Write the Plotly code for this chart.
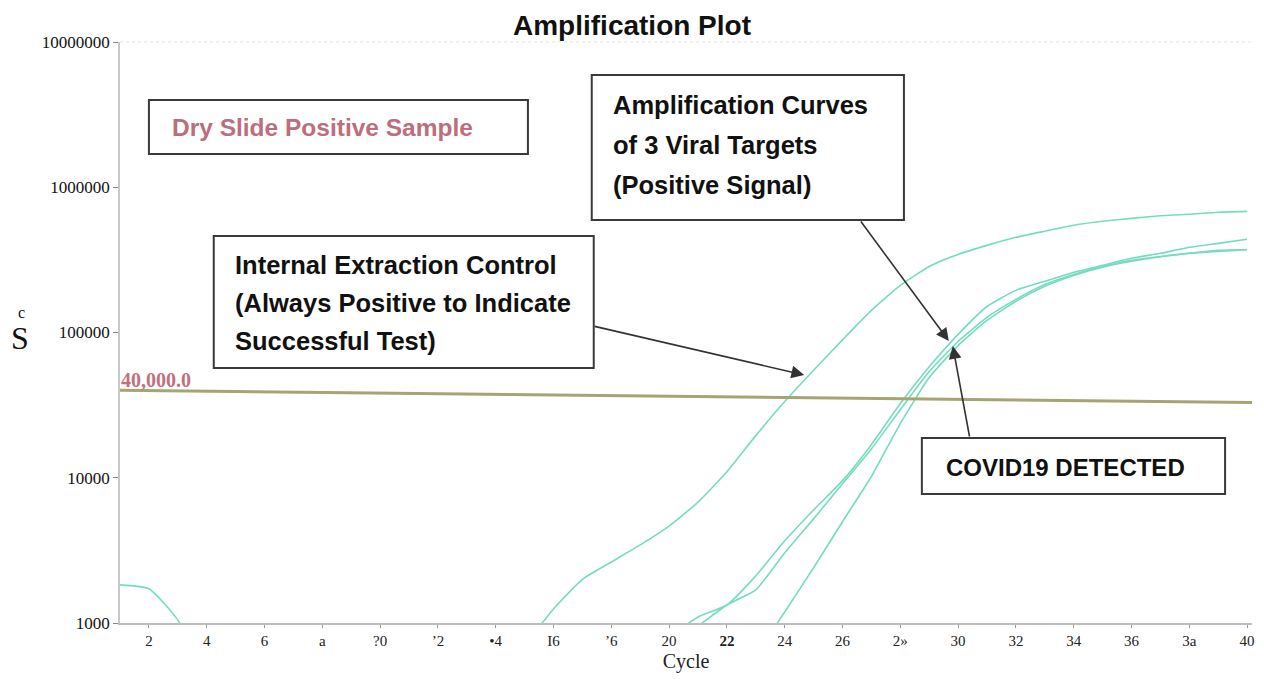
import plotly.graph_objects as go

# ---------------- data ----------------
cycles_ic = list(range(15, 41))
ic_values = [700, 1250, 2000, 2630, 3450, 4650, 6800, 11000, 19500, 33500, 55000,
             89000, 142000, 211000, 285000, 345000, 398000, 452000, 498000, 547000,
             583000, 611000, 636000, 652000, 673000, 682000]

cycles_b = list(range(20, 41))
target_b = [800, 1100, 1330, 2110, 3680, 6000, 9550, 16900, 32400, 58000, 97000,
            151000, 195000, 225000, 259000, 290000, 324000, 351000, 386000, 411000, 438000]

cycles_c = list(range(21, 41))
target_c = [950, 1330, 1690, 3040, 5210, 9100, 15800, 29400, 53800, 86700, 127000,
            169000, 214000, 251000, 285000, 314000, 334000, 351000, 368000, 373000]

cycles_d = list(range(23, 41))
target_d = [600, 1190, 2400, 4980, 10200, 23600, 49000, 81300, 121000, 164000,
            208000, 247000, 281000, 309000, 332000, 351000, 362000, 371000]

cycles_early = [1, 2, 3, 4]
early_values = [1830, 1720, 1050, 400]

threshold_cycles = [1, 40.17]
threshold_values = [40000, 33000]

x_tickvals = list(range(2, 41, 2))
x_ticktext = ["2", "4", "6", "a", "?0", "ʼ2", "•4", "I6", "ʼ6", "20", "<b>22</b>", "24",
              "26", "2»", "30", "32", "34", "36", "3a", "40"]
y_tickvals = [1000, 10000, 100000, 1000000, 10000000]
y_ticktext = ["1000", "10000", "100000", "1000000", "10000000"]

# ---------------- figure ----------------
PAGE_W, PAGE_H = 1264, 679
OFF = 8  # default page body margin
W, H = PAGE_W - OFF, PAGE_H - OFF
L, R, T, B = 120, 1255, 42, 623  # plot area in page pixels


def px(x):
    return (x - L) / (R - L)


def py(y):
    return (B - y) / (B - T)


TEAL = "#74dcc0"
fig = go.Figure()
for xs, ys in [(cycles_early, early_values), (cycles_ic, ic_values), (cycles_b, target_b),
               (cycles_c, target_c), (cycles_d, target_d)]:
    fig.add_trace(go.Scatter(x=xs, y=ys, mode="lines",
                             line=dict(color=TEAL, width=1.6, shape="spline", smoothing=0.5),
                             showlegend=False, hoverinfo="skip"))

fig.add_trace(go.Scatter(x=threshold_cycles, y=threshold_values, mode="lines",
                         line=dict(color="#a6a472", width=3), showlegend=False, hoverinfo="skip"))

serif = "Liberation Serif"
sans = "Liberation Sans"

fig.update_layout(
    width=W, height=H,
    margin=dict(l=L - OFF, r=PAGE_W - R, t=T - OFF, b=PAGE_H - B),
    paper_bgcolor="white", plot_bgcolor="white",
    title=dict(text="<b>Amplification Plot</b>", x=(632 - OFF) / W, xanchor="center",
               y=1 - (25 - OFF) / H, yanchor="middle", font=dict(family=sans, size=28, color="#111")),
    xaxis=dict(range=[1, 40.17], tickvals=x_tickvals, ticktext=x_ticktext,
               showgrid=False, zeroline=False, showline=True, linecolor="#bdbdbd", linewidth=1.5,
               ticks="outside", ticklen=3, tickcolor="#999",
               tickfont=dict(family=serif, size=15, color="#222"),
               title=dict(text="Cycle", font=dict(family=serif, size=20, color="#222"), standoff=6),
               mirror=False),
    yaxis=dict(type="log", range=[3, 7], tickvals=y_tickvals, ticktext=y_ticktext,
               showgrid=False, zeroline=False, showline=True, linecolor="#c8c8c8", linewidth=1.5,
               ticks="outside", ticklen=5, tickcolor="#888",
               tickfont=dict(family=serif, size=17, color="#111")),
)

# faint top border
fig.add_shape(type="line", xref="paper", yref="paper", x0=0, x1=1, y0=1, y1=1,
              line=dict(color="#e2e2e2", width=1, dash="dot"))

# y-axis title glyph
fig.add_annotation(xref="paper", yref="paper", x=px(20), y=py(338), text="S", showarrow=False,
                   font=dict(family=serif, size=32, color="#111"), xanchor="center", yanchor="middle")
fig.add_annotation(xref="paper", yref="paper", x=px(21), y=py(312), text="c", showarrow=False,
                   font=dict(family=serif, size=16, color="#111"), xanchor="center", yanchor="middle")

# threshold label
fig.add_annotation(xref="paper", yref="paper", x=px(119), y=py(380), text="<b>40,000.0</b>",
                   showarrow=False, xanchor="left", yanchor="middle",
                   font=dict(family=serif, size=20, color="#c0707e"))

BOX = dict(color="#3a3a3a", width=2)


def box(x0, y0, x1, y1):
    fig.add_shape(type="rect", xref="paper", yref="paper", x0=px(x0), x1=px(x1),
                  y0=py(y1), y1=py(y0), line=BOX, fillcolor="white", layer="above")


def text(x, y, s, size, color="#111"):
    fig.add_annotation(xref="paper", yref="paper", x=px(x), y=py(y), text="<b>" + s + "</b>",
                       showarrow=False, xanchor="left", yanchor="middle",
                       font=dict(family=sans, size=size, color=color))


box(149, 100, 529, 154)
text(170, 128, "Dry Slide Positive Sample", 24.5, "#bc6e7c")

box(214, 236, 595, 368)
text(233, 265, "Internal Extraction Control", 25.5)
text(233, 303, "(Always Positive to Indicate", 25.5)
text(233, 341, "Successful Test)", 25.5)

box(593, 75, 906, 220)
text(612, 105, "Amplification Curves", 25.5)
text(612, 145, "of 3 Viral Targets", 25.5)
text(612, 185, "(Positive Signal)", 25.5)

box(924, 438, 1228, 494)
text(946, 467, "COVID19 DETECTED", 24)


def arrow(x_tail, y_tail, x_tip, y_tip):
    fig.add_annotation(xref="paper", yref="paper", x=px(x_tip), y=py(y_tip), text="",
                       showarrow=True, axref="pixel", ayref="pixel",
                       ax=x_tail - x_tip, ay=y_tail - y_tip,
                       arrowhead=2, arrowsize=1.6, arrowwidth=1.6, arrowcolor="#333")


arrow(595, 326, 806, 375)
arrow(862, 220, 951, 341)
arrow(972, 438, 955, 346)

fig.write_html("out.html")
